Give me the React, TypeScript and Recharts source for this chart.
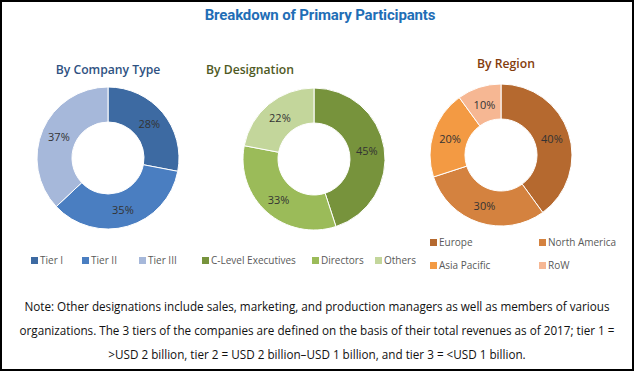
import { PieChart, Pie, Cell } from "recharts"

const TITLE = "Breakdown of Primary Participants"

const companyNames = ["Tier I", "Tier II", "Tier III"]
const companyValues = [28, 35, 37]

const designationNames = ["C-Level Executives", "Directors", "Others"]
const designationValues = [45, 33, 22]

const regionNames = ["Europe", "North America", "Asia Pacific", "RoW"]
const regionValues = [40, 30, 20, 10]

const NOTE_LINES = [
  "Note: Other designations include sales, marketing, and production managers as well as members of various",
  "organizations. The 3 tiers of the companies are defined on the basis of their total revenues as of 2017; tier 1 =",
  ">USD 2 billion, tier 2 = USD 2 billion\u2013USD 1 billion, and tier 3 = <USD 1 billion.",
]

const BLUES = ["#3D6AA2", "#4A7EC1", "#A6B8DA"]
const GREENS = ["#77933C", "#9BBB59", "#C3D69B"]
const ORANGES = ["#B5692F", "#D4823F", "#F39A43", "#F6B793"]

const FONT = "'Open Sans', 'Noto Sans', sans-serif"
const RADIAN = Math.PI / 180

function toRows(names: string[], values: number[]) {
  return names.map((name, i) => ({ name, value: values[i] }))
}

function renderLabel(props: any) {
  const { cx, cy, midAngle, innerRadius, outerRadius, value } = props
  const r = innerRadius + (outerRadius - innerRadius) * 0.5
  const x = cx + r * Math.cos(-midAngle * RADIAN)
  const y = cy + r * Math.sin(-midAngle * RADIAN)
  return (
    <text
      x={x}
      y={y}
      fill="#333"
      fontSize={11}
      fontFamily={FONT}
      textAnchor="middle"
      dominantBaseline="central"
    >
      {value}%
    </text>
  )
}

function Donut({
  names,
  values,
  colors,
  cx,
  cy,
}: {
  names: string[]
  values: number[]
  colors: string[]
  cx: number
  cy: number
}) {
  const size = 160
  return (
    <div style={{ position: "absolute", left: cx - size / 2, top: cy - size / 2 }}>
      <PieChart width={size} height={size} margin={{ top: 0, right: 0, bottom: 0, left: 0 }}>
        <Pie
          data={toRows(names, values)}
          dataKey="value"
          nameKey="name"
          cx="50%"
          cy="50%"
          innerRadius={36}
          outerRadius={71}
          startAngle={90}
          endAngle={-270}
          stroke="#fff"
          strokeWidth={1}
          label={renderLabel}
          labelLine={false}
          isAnimationActive={false}
        >
          {names.map((n, i) => (
            <Cell key={n} fill={colors[i]} />
          ))}
        </Pie>
      </PieChart>
    </div>
  )
}

function LegendItem({ name, color, x, y }: { name: string; color: string; x: number; y: number }) {
  return (
    <div
      style={{
        position: "absolute",
        left: x,
        top: y - 8,
        height: 16,
        display: "flex",
        alignItems: "center",
        whiteSpace: "nowrap",
        fontFamily: FONT,
        fontSize: 10,
        color: "#595959",
      }}
    >
      <span style={{ width: 7, height: 7, background: color, marginRight: 2, display: "inline-block" }} />
      {name}
    </div>
  )
}

function Label({
  text,
  cx,
  cy,
  size,
  color,
  weight = 400,
  family = FONT,
  spacing = 0,
}: {
  text: string
  cx: number
  cy: number
  size: number
  color: string
  weight?: number
  family?: string
  spacing?: number
}) {
  return (
    <div
      style={{
        position: "absolute",
        left: cx - 320,
        width: 640,
        top: cy - 10,
        height: 20,
        lineHeight: "20px",
        textAlign: "center",
        whiteSpace: "nowrap",
        fontFamily: family,
        fontSize: size,
        fontWeight: weight,
        color,
        letterSpacing: spacing,
      }}
    >
      {text}
    </div>
  )
}

const LEGEND1_X = [31, 82, 139]
const LEGEND2_X = [202, 312, 375]
const LEGEND3_POS = [
  [430, 242],
  [539, 242],
  [430, 265],
  [539, 265],
]

export default function App() {
  return (
    <div
      style={{
        position: "absolute",
        left: 0,
        top: 0,
        width: 634,
        height: 372,
        background: "#fff",
        overflow: "hidden",
      }}
    >
      <div
        style={{
          position: "absolute",
          left: 0,
          top: 0,
          width: 634,
          height: 371,
          boxSizing: "border-box",
          border: "2px solid #000",
        }}
      />
      <Label text={TITLE} cx={320} cy={15} size={15} color="#1F6EB6" weight={700} family="Roboto, sans-serif" spacing={-0.15} />
      <Label text="By Company Type" cx={108} cy={70} size={12.2} color="#2F5282" weight={600} />
      <Label text="By Designation" cx={250} cy={70} size={12.2} color="#4F5A24" weight={600} />
      <Label text="By Region" cx={506} cy={64} size={12.2} color="#843C0C" weight={600} />

      <Donut names={companyNames} values={companyValues} colors={BLUES} cx={108} cy={158} />
      <Donut names={designationNames} values={designationValues} colors={GREENS} cx={314} cy={159} />
      <Donut names={regionNames} values={regionValues} colors={ORANGES} cx={501} cy={155} />

      {companyNames.map((n, i) => (
        <LegendItem key={n} name={n} color={BLUES[i]} x={LEGEND1_X[i]} y={260} />
      ))}
      {designationNames.map((n, i) => (
        <LegendItem key={n} name={n} color={GREENS[i]} x={LEGEND2_X[i]} y={260} />
      ))}
      {regionNames.map((n, i) => (
        <LegendItem key={n} name={n} color={ORANGES[i]} x={LEGEND3_POS[i][0]} y={LEGEND3_POS[i][1]} />
      ))}

      {NOTE_LINES.map((line, i) => (
        <Label key={i} text={line} cx={317} cy={306 + i * 24} size={11.7} color="#111" />
      ))}
    </div>
  )
}
